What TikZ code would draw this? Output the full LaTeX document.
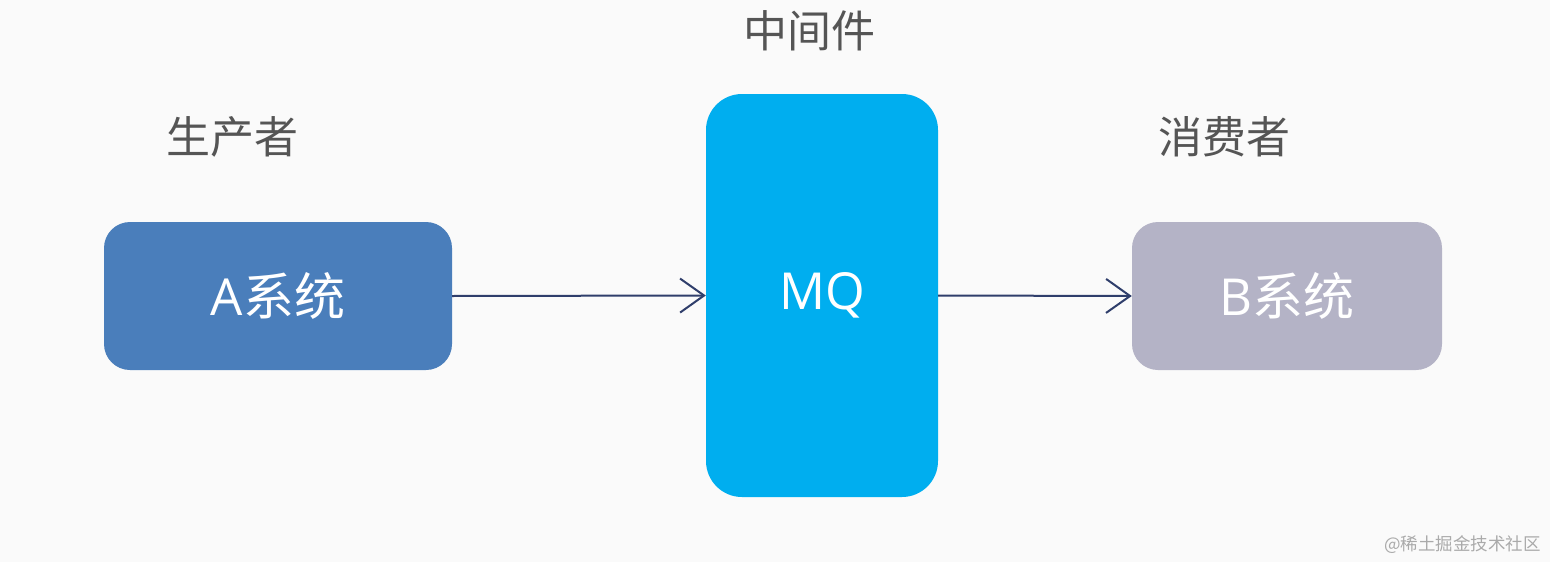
\documentclass[tikz,border=0pt]{standalone}
\usepackage{fontspec}
\setmainfont{Noto Sans CJK SC}
\newfontfamily\latfont{Open Sans}
\usetikzlibrary{arrows.meta}
\definecolor{bg}{HTML}{FAFAFA}
\definecolor{boxA}{HTML}{4A7EBB}
\definecolor{boxMQ}{HTML}{00AEEF}
\definecolor{boxB}{HTML}{B4B3C6}
\definecolor{lbl}{HTML}{555555}
\definecolor{conn}{HTML}{2F3E6B}
\definecolor{wm}{HTML}{AAAAAA}
\tikzset{
  sysbox/.style={fill=#1, draw=none, text=white, font=\fontsize{51}{56}\selectfont, inner sep=0pt},
  role/.style={text=lbl, font=\fontsize{44}{50}\selectfont, inner sep=0pt},
  flow/.style={draw=conn, line width=2pt, -{Straight Barb[length=24pt,width=34pt,line width=2pt]}},
}
\begin{document}
\begin{tikzpicture}[x=1pt,y=-1pt]
\fill[bg] (0,0) rectangle (1550,562);
\useasboundingbox (0,0) rectangle (1550,562);
\node[sysbox=boxA, minimum width=348pt, minimum height=148pt, rounded corners=26pt] (A) at (278,296) {{\latfont A}系统};
\node[sysbox=boxMQ, minimum width=232pt, minimum height=403pt, rounded corners=36pt] (MQ) at (822,295.5) {\latfont MQ};
\node[sysbox=boxB, minimum width=310pt, minimum height=148pt, rounded corners=26pt] (B) at (1287,296) {{\latfont B}系统};
\node[role] (prod) at (232,137) {生产者};
\node[role] (mid) at (809,31) {中间件};
\node[role] (cons) at (1224,137) {消费者};
\node[text=wm, font=\fontsize{17.5}{20}\selectfont, anchor=east, inner sep=0pt] (wmk) at (1541,545) {@稀土掘金技术社区};
\draw[flow] (A.east) -- (MQ.west);
\draw[flow] (MQ.east) -- (B.west);
\end{tikzpicture}
\end{document}
